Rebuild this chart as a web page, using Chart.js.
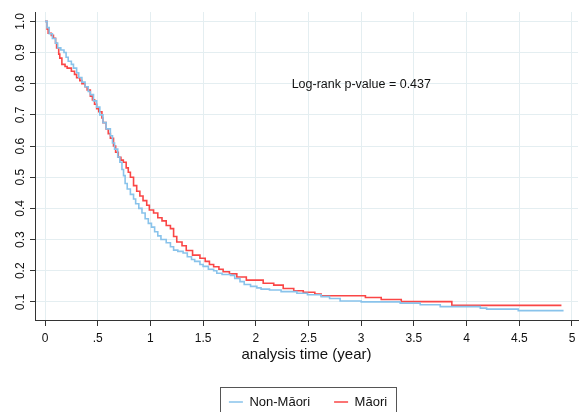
<!DOCTYPE html>
<html>
<head>
<meta charset="utf-8">
<script src="https://cdn.jsdelivr.net/npm/chart.js@4"></script>
<style>
    body { margin: 0; background: #fff; }
    #wrap { width: 579px; height: 412px; position: relative; }
</style>
</head>
<body>
<div id="wrap"><canvas id="kmChart"></canvas></div>
<script>
    // Kaplan-Meier estimates
    const nonMaoriTime = [0, 0.02, 0.04, 0.07, 0.10, 0.12, 0.15, 0.18, 0.20, 0.22, 0.25, 0.27, 0.30, 0.32, 0.35, 0.38, 0.41, 0.43, 0.46, 0.49,
        0.52, 0.55, 0.58, 0.62, 0.64, 0.66, 0.69, 0.71, 0.73, 0.745, 0.76, 0.78, 0.81, 0.84, 0.86, 0.89, 0.92, 0.95, 0.98, 1.01,
        1.04, 1.07, 1.10, 1.15, 1.19, 1.22, 1.26, 1.31, 1.35, 1.39, 1.42, 1.47, 1.50, 1.55, 1.60, 1.63, 1.68, 1.76, 1.80, 1.85,
        1.89, 1.95, 2.01, 2.05, 2.13, 2.24, 2.39, 2.49, 2.62, 2.70, 2.80, 3.00, 3.37, 3.56, 3.75, 4.13, 4.19, 4.49, 4.92];
    const nonMaoriSurv = [1.0, 0.98, 0.96, 0.945, 0.93, 0.915, 0.908, 0.90, 0.885, 0.872, 0.862, 0.85, 0.835, 0.82, 0.805, 0.79, 0.775, 0.765, 0.745, 0.725,
        0.70, 0.675, 0.655, 0.633, 0.61, 0.59, 0.565, 0.548, 0.525, 0.505, 0.48, 0.462, 0.445, 0.43, 0.415, 0.40, 0.385, 0.367, 0.352, 0.34,
        0.325, 0.312, 0.30, 0.29, 0.277, 0.266, 0.262, 0.257, 0.245, 0.236, 0.23, 0.22, 0.214, 0.205, 0.20, 0.192, 0.188, 0.185, 0.175, 0.165,
        0.156, 0.15, 0.145, 0.141, 0.138, 0.133, 0.128, 0.123, 0.117, 0.111, 0.103, 0.10, 0.096, 0.091, 0.085, 0.08, 0.077, 0.072, 0.072];

    const maoriTime = [0, 0.02, 0.03, 0.06, 0.08, 0.10, 0.11, 0.13, 0.14, 0.16, 0.19, 0.21, 0.25, 0.28, 0.30, 0.33, 0.35, 0.38, 0.40, 0.43,
        0.45, 0.47, 0.49, 0.51, 0.54, 0.55, 0.58, 0.60, 0.62, 0.65, 0.67, 0.695, 0.72, 0.743, 0.77, 0.79, 0.81, 0.84, 0.87, 0.90,
        0.93, 0.965, 0.99, 1.03, 1.07, 1.11, 1.15, 1.19, 1.22, 1.25, 1.30, 1.34, 1.40, 1.47, 1.52, 1.56, 1.60, 1.65, 1.69, 1.75,
        1.82, 1.91, 2.07, 2.17, 2.26, 2.36, 2.45, 2.56, 2.62, 3.04, 3.19, 3.38, 3.86, 4.90];
    const maoriSurv = [1.0, 0.975, 0.962, 0.955, 0.946, 0.93, 0.915, 0.895, 0.882, 0.862, 0.855, 0.85, 0.84, 0.83, 0.819, 0.81, 0.80, 0.79, 0.78, 0.76,
        0.748, 0.734, 0.72, 0.71, 0.69, 0.675, 0.655, 0.64, 0.625, 0.60, 0.58, 0.564, 0.555, 0.548, 0.53, 0.516, 0.50, 0.473, 0.455, 0.44,
        0.425, 0.41, 0.395, 0.385, 0.37, 0.36, 0.345, 0.335, 0.31, 0.292, 0.28, 0.265, 0.25, 0.24, 0.23, 0.22, 0.213, 0.205, 0.197, 0.19,
        0.18, 0.17, 0.16, 0.154, 0.143, 0.136, 0.131, 0.125, 0.12, 0.114, 0.108, 0.101, 0.089, 0.089];

    const groupNames = ['Non-M\u0101ori', 'M\u0101ori'];
    const xTicks = [0, 0.5, 1, 1.5, 2, 2.5, 3, 3.5, 4, 4.5, 5];
    const xTickLabels = ['0', '.5', '1', '1.5', '2', '2.5', '3', '3.5', '4', '4.5', '5'];
    const yTicks = [0.1, 0.2, 0.3, 0.4, 0.5, 0.6, 0.7, 0.8, 0.9, 1.0];
    const yTickLabels = ['0.1', '0.2', '0.3', '0.4', '0.5', '0.6', '0.7', '0.8', '0.9', '1.0'];
    const pValueText = 'Log-rank p-value = 0.437';
    const pValueAt = [2.34, 0.797];

    const toPoints = (ts, ss) => ts.map((t, i) => ({ x: t, y: ss[i] }));

    Chart.defaults.font.family = '"Liberation Sans", Arial, sans-serif';
    Chart.defaults.color = '#111';

    // moves the legend under the plot and draws a frame round it
    const legendFrame = {
        id: 'legendFrame',
        afterLayout(chart) {
            const lg = chart.legend;
            lg.left += 19; lg.right += 19;
            lg.top += 6.5; lg.bottom += 6.5;
        },
        afterDraw(chart) {
            const boxes = chart.legend.legendHitBoxes;
            if (!boxes || !boxes.length) return;
            const first = boxes[0], last = boxes[boxes.length - 1];
            const ctx = chart.ctx;
            ctx.save();
            ctx.strokeStyle = '#555';
            ctx.lineWidth = 1;
            ctx.strokeRect(Math.round(first.left - 9) + 0.5, Math.round(first.top - 8.5) + 0.5,
                Math.round(last.left + last.width - first.left + 18), 60);
            ctx.restore();
        }
    };

    const pValueNote = {
        id: 'pValueNote',
        afterDatasetsDraw(chart) {
            const { ctx, scales } = chart;
            ctx.save();
            ctx.font = '12.5px "Liberation Sans", Arial, sans-serif';
            ctx.fillStyle = '#111';
            ctx.textAlign = 'left';
            ctx.textBaseline = 'middle';
            ctx.fillText(pValueText, scales.x.getPixelForValue(pValueAt[0]), scales.y.getPixelForValue(pValueAt[1]));
            ctx.restore();
        }
    };

    new Chart(document.getElementById('kmChart'), {
        type: 'line',
        data: {
            datasets: [{
                label: groupNames[0],
                data: toPoints(nonMaoriTime, nonMaoriSurv),
                borderColor: '#89c3eb',
                backgroundColor: '#89c3eb',
                borderWidth: 1.6,
                stepped: 'before',
                pointRadius: 0,
                pointStyle: 'line'
            }, {
                label: groupNames[1],
                data: toPoints(maoriTime, maoriSurv),
                borderColor: '#fa4646',
                backgroundColor: '#fa4646',
                borderWidth: 1.6,
                stepped: 'before',
                pointRadius: 0,
                pointStyle: 'line'
            }]
        },
        options: {
            responsive: true,
            maintainAspectRatio: false,
            animation: false,
            layout: { padding: { top: 12, right: 1, left: 0, bottom: 0 } },
            plugins: {
                legend: {
                    position: 'bottom',
                    labels: {
                        usePointStyle: true,
                        pointStyleWidth: 14,
                        padding: 24,
                        color: '#111',
                        font: { size: 13 }
                    }
                },
                tooltip: { enabled: false }
            },
            scales: {
                x: {
                    type: 'linear',
                    min: -0.095,
                    max: 5.057,
                    afterBuildTicks: s => { s.ticks = xTicks.map(v => ({ value: v })); },
                    afterFit: s => { s.height = 45; s.paddingLeft = 0; s.paddingRight = 0; },
                    ticks: {
                        autoSkip: false,
                        maxRotation: 0,
                        padding: 5.5,
                        font: { size: 12 },
                        callback: (v, i) => xTickLabels[i]
                    },
                    grid: { color: '#e4eef1', tickColor: '#333', tickLength: 6 },
                    border: { display: true, color: '#333', width: 1 },
                    title: {
                        display: true,
                        text: 'analysis time (year)',
                        font: { size: 15 },
                        color: '#111',
                        padding: { top: 0, bottom: 1 }
                    }
                },
                y: {
                    type: 'linear',
                    min: 0.042,
                    max: 1.03,
                    afterBuildTicks: s => { s.ticks = yTicks.map(v => ({ value: v })); },
                    afterFit: s => { s.width = 35; s.paddingTop = 0; s.paddingBottom = 0; },
                    ticks: {
                        minRotation: 90,
                        maxRotation: 90,
                        crossAlign: 'center',
                        padding: 1,
                        font: { size: 12 },
                        callback: (v, i) => yTickLabels[i]
                    },
                    grid: { color: '#e4eef1', tickColor: '#333', tickLength: 5 },
                    border: { display: true, color: '#333', width: 1 }
                }
            }
        },
        plugins: [legendFrame, pValueNote]
    });
</script>
</body>
</html>
